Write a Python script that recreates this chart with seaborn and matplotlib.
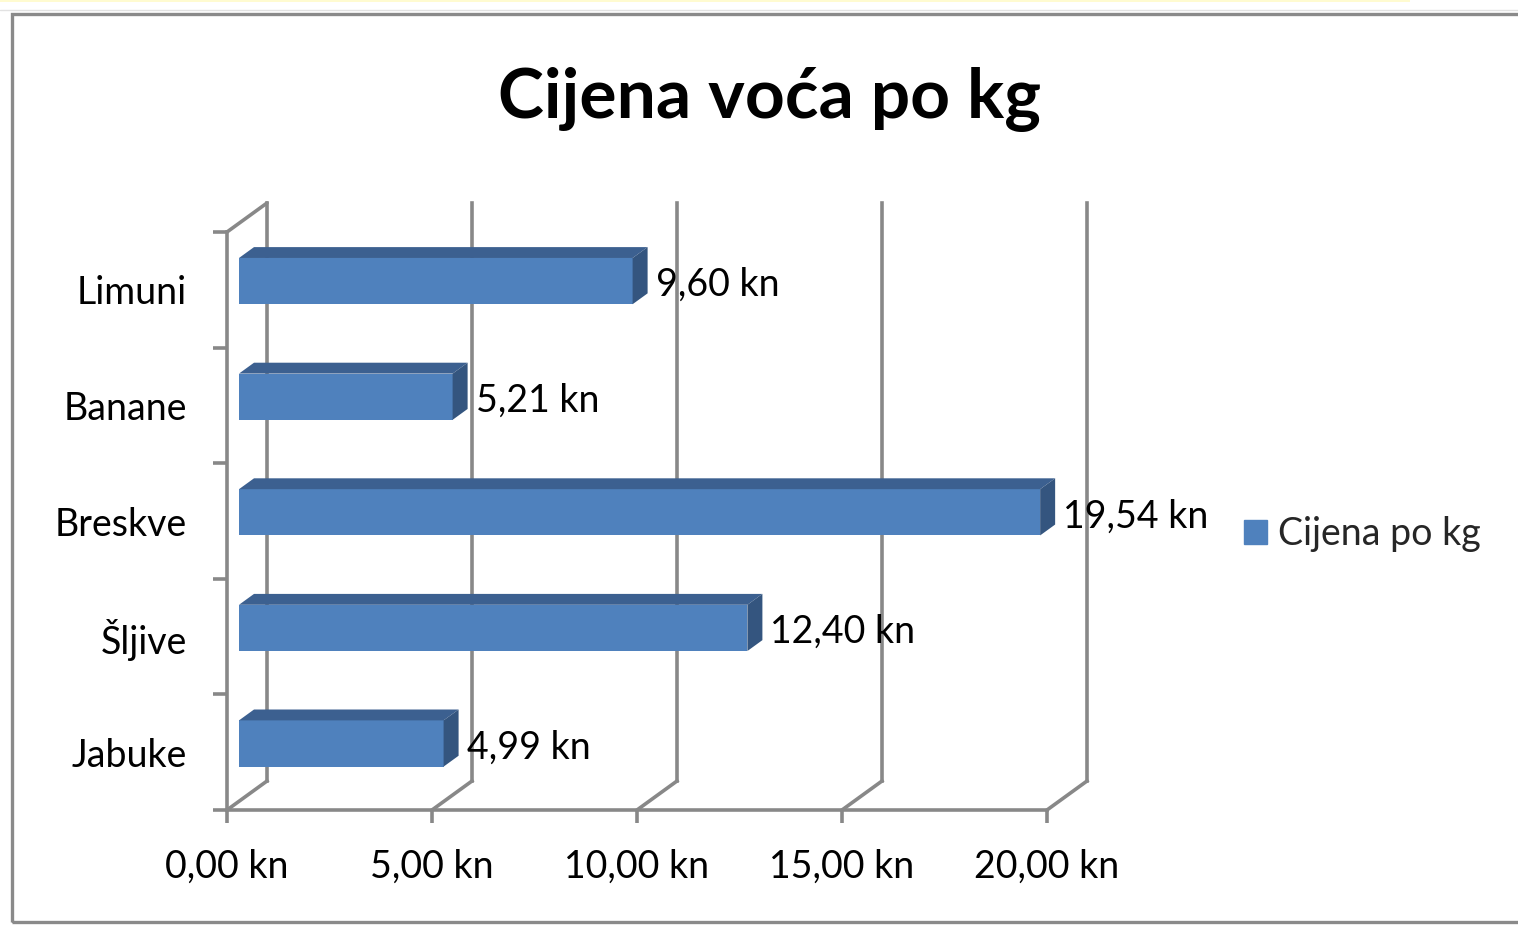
import seaborn as sns
import matplotlib.pyplot as plt
import numpy as np
from matplotlib.patches import Polygon, Rectangle, Patch
from matplotlib.lines import Line2D

# data (top to bottom, as in the chart)
fruits = ['Limuni', 'Banane', 'Breskve', 'Šljive', 'Jabuke']
prices = [9.60, 5.21, 19.54, 12.40, 4.99]
xticks = [0, 5, 10, 15, 20]
series_name = 'Cijena po kg'
title = 'Cijena voća po kg'

sns.set_theme(style="white")
plt.rcParams['font.family'] = ['Lato', 'DejaVu Sans']

W, H = 1518, 925
fig = plt.figure(figsize=(W / 100, H / 100), dpi=100)
fig.patch.set_facecolor('white')

# front plane of the 3D box, in pixels
ax = fig.add_axes([227 / W, 1 - 810 / H, 820 / W, (810 - 232) / H])
ax.set_facecolor('none')

front = '#4F81BD'
top_c = '#3C6090'
side_c = '#34557F'
grid_c = '#888888'
lw = 2.6
fs = 27

# depth offsets in data units (full depth of the box)
DX = 40 / 41.0
DY = 29 / 115.6
f0, f1 = 0.3, 0.675
bar_h = 0.40


def proj(v, r, d):
    return (v + d * DX, r - d * DY)


sns.barplot(x=prices, y=fruits, orient='y', color=front, saturation=1,
            width=bar_h, edgecolor='none', linewidth=0, ax=ax, zorder=3)
for p in ax.patches:
    p.set_x(p.get_x() + f0 * DX)
    p.set_y(p.get_y() - f0 * DY)
    p.set_clip_on(False)

ax.set_xlim(0, 20)
ax.set_ylim(4.5, -0.5)

# back wall and floor lines
for t in xticks:
    for a, b in [((t, -0.5, 1), (t, 4.5, 1)), ((t, 4.5, 0), (t, 4.5, 1))]:
        p1, p2 = proj(*a), proj(*b)
        ax.add_line(Line2D([p1[0], p2[0]], [p1[1], p2[1]], color=grid_c,
                           lw=lw, clip_on=False, zorder=1,
                           solid_capstyle='projecting'))
p1, p2 = proj(0, -0.5, 0), proj(0, -0.5, 1)
ax.add_line(Line2D([p1[0], p2[0]], [p1[1], p2[1]], color=grid_c, lw=lw,
                   clip_on=False, zorder=1))

# top and side faces of the bars
for i, v in enumerate(prices):
    r0 = i - bar_h / 2
    r1 = i + bar_h / 2
    top = [proj(0, r0, f0), proj(v, r0, f0), proj(v, r0, f1), proj(0, r0, f1)]
    side = [proj(v, r0, f0), proj(v, r1, f0), proj(v, r1, f1), proj(v, r0, f1)]
    ax.add_patch(Polygon(top, closed=True, fc=top_c, ec='none', clip_on=False, zorder=3))
    ax.add_patch(Polygon(side, closed=True, fc=side_c, ec='none', clip_on=False, zorder=3))
    lab = f"{v:.2f}".replace('.', ',') + ' kn'
    x, y = proj(v, i, f1)
    ax.annotate(lab, xy=(x, i - f0 * DY), xytext=(8, -4), textcoords='offset pixels',
                ha='left', va='center', fontsize=fs, color='black', zorder=5,
                annotation_clip=False)

# axes, ticks
for s in ['top', 'right']:
    ax.spines[s].set_visible(False)
for s in ['left', 'bottom']:
    ax.spines[s].set_color(grid_c)
    ax.spines[s].set_linewidth(lw)
    ax.spines[s].set_zorder(1)

ax.set_xticks(xticks)
ax.set_xticklabels([f"{t:.2f}".replace('.', ',') + ' kn' for t in xticks])
ax.tick_params(axis='x', direction='out', length=9, width=lw, color=grid_c,
               pad=19, labelsize=fs, labelcolor='black', bottom=True)
ax.set_yticks(np.arange(-0.5, 5, 1))
ax.set_yticklabels([])
ax.set_yticks(range(len(fruits)), minor=True)
ax.set_yticklabels(fruits, minor=True)
ax.tick_params(axis='y', which='major', direction='out', length=10, width=lw,
               color=grid_c, left=True)
ax.tick_params(axis='y', which='minor', length=0, pad=29, labelsize=fs,
               labelcolor='black', left=True)
ax.set_xlabel('')
ax.set_ylabel('')
ax.grid(False)

# legend
ax.legend(handles=[Patch(color=front, label=series_name)], loc='center left',
          bbox_to_anchor=(1244 / W, 1 - 534 / H), bbox_transform=fig.transFigure,
          frameon=False, fontsize=fs, handlelength=0.6, handleheight=0.62,
          handletextpad=0.3, borderpad=0, borderaxespad=0)

fig.text(770 / W, 1 - 100 / H, title, ha='center', va='center', fontsize=50,
         fontweight='bold', color='black')

# chart area border and the sheet behind it
fig.add_artist(Rectangle((12 / W, 1 - 922 / H), (W + 20) / W, (922 - 14) / H,
                         transform=fig.transFigure, fill=False, ec='#8A8A8A', lw=2.4))
fig.add_artist(Rectangle((0, 1 - 2 / H), 1410 / W, 2 / H, transform=fig.transFigure,
                         fc='#FFFBD0', ec='none'))
fig.add_artist(Line2D([0, 1], [1 - 10 / H, 1 - 10 / H], transform=fig.transFigure,
                      color='#E2E2E2', lw=1))

fig.savefig('out.png', dpi=100)
